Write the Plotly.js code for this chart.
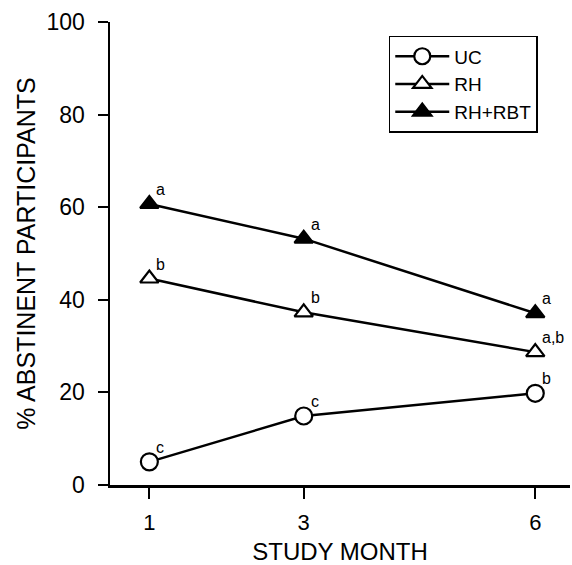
<!DOCTYPE html>
<html>
<head>
<meta charset="utf-8">
<script src="https://cdn.plot.ly/plotly-3.0.1.min.js"></script>
<style>html,body{margin:0;padding:0;background:#fff;}#chart{width:572px;height:565px;}</style>
</head>
<body>
<div id="chart"></div>
<script>
var months = [1, 3, 6];
var seriesNames = ["UC", "RH", "RH+RBT"];
var ucValues = [5.0, 14.9, 19.8];
var rhValues = [44.6, 37.3, 28.7];
var rbtValues = [60.7, 53.2, 37.1];
var ucLabels = ["c", "c", "b"];
var rhLabels = ["b", "b", "a,b"];
var rbtLabels = ["a", "a", "a"];
var yTicks = [0, 20, 40, 60, 80, 100];

var FONT = "Liberation Sans, Arial, Helvetica, sans-serif";

function trace(name, vals, symbol, fill) {
  return {
    x: months, y: vals, name: name, type: "scatter", mode: "lines+markers",
    line: {color: "#000", width: 2.5},
    marker: {symbol: symbol, size: symbol === "circle" ? 17 : 16, color: fill,
             line: {color: "#000", width: 2.2}}
  };
}

var data = [
  trace(seriesNames[0], ucValues, "circle", "#fff"),
  trace(seriesNames[1], rhValues, "triangle-up", "#fff"),
  trace(seriesNames[2], rbtValues, "triangle-up", "#000")
];

var annotations = [];
[[ucValues, ucLabels], [rhValues, rhLabels], [rbtValues, rbtLabels]].forEach(function (p) {
  months.forEach(function (m, i) {
    annotations.push({
      x: m, y: p[0][i], xref: "x", yref: "y", text: p[1][i], showarrow: false,
      xanchor: "left", yanchor: "bottom", xshift: 5, yshift: 4,
      font: {family: FONT, size: 16, color: "#000"}
    });
  });
});

var layout = {
  width: 572, height: 565,
  margin: {l: 110, r: 2, t: 22, b: 80},
  paper_bgcolor: "#fff", plot_bgcolor: "#fff",
  font: {family: FONT, color: "#000"},
  showlegend: true,
  legend: {
    x: 0.606, y: 0.97, xanchor: "left", yanchor: "top",
    bgcolor: "#fff", bordercolor: "#000", borderwidth: 1.5,
    font: {family: FONT, size: 19, color: "#000"},
    tracegroupgap: 0, itemwidth: 54, entrywidth: 105, entrywidthmode: "pixels"
  },
  xaxis: {
    range: [0.49, 6.45], tickmode: "array", tickvals: months, ticktext: months.map(String),
    showline: true, linecolor: "#000", linewidth: 2.5, mirror: false,
    ticks: "outside", ticklen: 11, tickwidth: 2, tickcolor: "#000",
    showgrid: false, zeroline: false, ticklabelstandoff: 5,
    tickfont: {family: FONT, size: 22, color: "#000"},
    title: {text: "STUDY MONTH", font: {family: FONT, size: 24, color: "#000"}, standoff: 14}
  },
  yaxis: {
    range: [0, 100], tickmode: "array", tickvals: yTicks,
    showline: true, linecolor: "#000", linewidth: 2.5,
    ticks: "outside", ticklen: 10, tickwidth: 2, tickcolor: "#000",
    showgrid: false, zeroline: false, ticklabelstandoff: 8,
    tickfont: {family: FONT, size: 23, color: "#000"},
    title: {text: "% ABSTINENT PARTICIPANTS", font: {family: FONT, size: 25, color: "#000"}, standoff: 4}
  },
  annotations: annotations
};

Plotly.newPlot("chart", data, layout, {displayModeBar: false, staticPlot: true});
</script>
</body>
</html>
